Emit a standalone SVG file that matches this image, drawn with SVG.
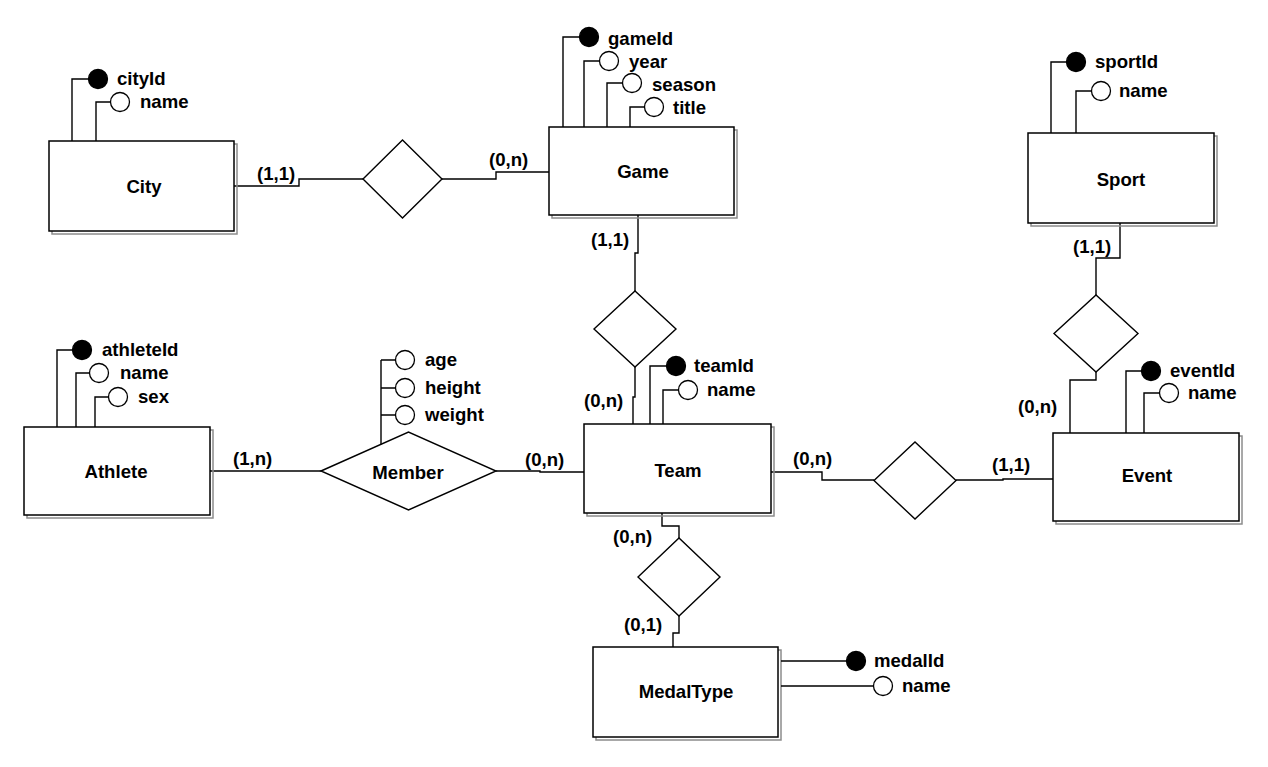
<svg xmlns="http://www.w3.org/2000/svg" width="1268" height="767" viewBox="0 0 1268 767">
<style>
  .bg{fill:#ffffff}
  .shadow{fill:none;stroke:#8c8c8c;stroke-width:1.5}
  .box{fill:#ffffff;stroke:#000000;stroke-width:1.5}
  .ln{fill:none;stroke:#000000;stroke-width:1.4}
  .dia{fill:#ffffff;stroke:#000000;stroke-width:1.4}
  .key{fill:#000000;stroke:#000000;stroke-width:1.3}
  .att{fill:#ffffff;stroke:#000000;stroke-width:1.3}
  text{font-family:"Liberation Sans",Arial,sans-serif;font-weight:bold;font-size:18.6px;fill:#000000}
  .c{text-anchor:middle}
</style>
<rect class="bg" x="0" y="0" width="1268" height="767"/>

<g id="connectors">
  <path class="ln" d="M234,186 H299 V179 H363"/>
  <path class="ln" d="M442,179 H496 V172 H549"/>
  <path class="ln" d="M638,215 V253 H635 V291"/>
  <path class="ln" d="M635,367 V397 H633 V424"/>
  <path class="ln" d="M1120,223 V258 H1096 V295"/>
  <path class="ln" d="M1096,372 V380 H1070 V433"/>
  <path class="ln" d="M210,471 H321"/>
  <path class="ln" d="M496,471 H540 V472 H584"/>
  <path class="ln" d="M771,472 H822 V480 H874"/>
  <path class="ln" d="M956,480 H1003 V479 H1053"/>
  <path class="ln" d="M662,513 V526 H679 V538"/>
  <path class="ln" d="M679,616 V633 H673 V647"/>
  <text x="257" y="180">(1,1)</text>
  <text x="489" y="166">(0,n)</text>
  <text x="591" y="246">(1,1)</text>
  <text x="584" y="407">(0,n)</text>
  <text x="1073" y="253">(1,1)</text>
  <text x="1018" y="413">(0,n)</text>
  <text x="233" y="465">(1,n)</text>
  <text x="525" y="466">(0,n)</text>
  <text x="793" y="465">(0,n)</text>
  <text x="992" y="471">(1,1)</text>
  <text x="613" y="543">(0,n)</text>
  <text x="624" y="631">(0,1)</text>
</g>

<g id="rel-city-game">
  <polygon class="dia" points="363,179 402.5,140 442,179 402.5,218"/>
</g>
<g id="rel-game-team">
  <polygon class="dia" points="594,329 635,291 676,329 635,367"/>
</g>
<g id="rel-sport-event">
  <polygon class="dia" points="1054,333.5 1096,295 1138,333.5 1096,372"/>
</g>
<g id="rel-team-event">
  <polygon class="dia" points="874,480.5 915,442 956,480.5 915,519"/>
</g>
<g id="rel-team-medal">
  <polygon class="dia" points="638,577 679,538 720,577 679,616"/>
</g>
<g id="rel-member">
  <polygon class="dia" points="321,471 408.5,432 496,471 408.5,510"/>
  <path class="ln" d="M381,444.5 V360 M381,360 H395.5 M381,388 H395.5 M381,415 H395.5"/>
  <circle class="att" cx="405" cy="360" r="9.5"/>
  <circle class="att" cx="405" cy="388" r="9.5"/>
  <circle class="att" cx="405" cy="415" r="9.5"/>
  <text x="425" y="366">age</text>
  <text x="425" y="394">height</text>
  <text x="425" y="421">weight</text>
  <text class="c" x="408" y="479">Member</text>
</g>

<g id="city">
  <rect class="shadow" x="52" y="144" width="185" height="90"/>
  <rect class="box" x="49" y="141" width="185" height="90"/>
  <text class="c" x="144" y="193">City</text>
  <path class="ln" d="M72,141 V79 H88.5 M96,141 V102 H110.5"/>
  <circle class="key" cx="98" cy="79" r="9.5"/>
  <circle class="att" cx="120" cy="102" r="9.5"/>
  <text x="117" y="85">cityId</text>
  <text x="140" y="108">name</text>
</g>

<g id="game">
  <rect class="shadow" x="552" y="130" width="185" height="88"/>
  <rect class="box" x="549" y="127" width="185" height="88"/>
  <text class="c" x="643" y="178">Game</text>
  <path class="ln" d="M563,127 V37 H579.5 M584,127 V61 H599.5 M607,127 V83 H622.5 M630,127 V107 H644.5"/>
  <circle class="key" cx="589" cy="37" r="9.5"/>
  <circle class="att" cx="609" cy="61" r="9.5"/>
  <circle class="att" cx="632" cy="83" r="9.5"/>
  <circle class="att" cx="654" cy="107" r="9.5"/>
  <text x="608" y="45">gameId</text>
  <text x="629" y="68">year</text>
  <text x="652" y="91">season</text>
  <text x="673" y="114">title</text>
</g>

<g id="sport">
  <rect class="shadow" x="1031" y="136" width="186" height="90"/>
  <rect class="box" x="1028" y="133" width="186" height="90"/>
  <text class="c" x="1121" y="186">Sport</text>
  <path class="ln" d="M1051,133 V62 H1066.5 M1076,133 V91 H1091.5"/>
  <circle class="key" cx="1076" cy="62" r="9.5"/>
  <circle class="att" cx="1101" cy="91" r="9.5"/>
  <text x="1095" y="68">sportId</text>
  <text x="1119" y="97">name</text>
</g>

<g id="athlete">
  <rect class="shadow" x="27" y="430" width="186" height="88"/>
  <rect class="box" x="24" y="427" width="186" height="88"/>
  <text class="c" x="116" y="478">Athlete</text>
  <path class="ln" d="M57,427 V350 H72.5 M76,427 V373 H89.5 M95,427 V397 H108.5"/>
  <circle class="key" cx="82" cy="350" r="9.5"/>
  <circle class="att" cx="99" cy="373" r="9.5"/>
  <circle class="att" cx="118" cy="397" r="9.5"/>
  <text x="102" y="356">athleteId</text>
  <text x="120" y="379">name</text>
  <text x="138" y="403">sex</text>
</g>

<g id="team">
  <rect class="shadow" x="587" y="427" width="187" height="89"/>
  <rect class="box" x="584" y="424" width="187" height="89"/>
  <text class="c" x="678" y="477">Team</text>
  <path class="ln" d="M650,424 V366 H666.5 M663,424 V390 H678.5"/>
  <circle class="key" cx="676" cy="366" r="9.5"/>
  <circle class="att" cx="688" cy="390" r="9.5"/>
  <text x="694" y="372">teamId</text>
  <text x="707" y="396">name</text>
</g>

<g id="event">
  <rect class="shadow" x="1056" y="436" width="186" height="88"/>
  <rect class="box" x="1053" y="433" width="186" height="88"/>
  <text class="c" x="1147" y="482">Event</text>
  <path class="ln" d="M1126,433 V371 H1141.5 M1144,433 V393 H1159.5"/>
  <circle class="key" cx="1151" cy="371" r="9.5"/>
  <circle class="att" cx="1169" cy="393" r="9.5"/>
  <text x="1170" y="377">eventId</text>
  <text x="1188" y="399">name</text>
</g>

<g id="medaltype">
  <rect class="shadow" x="596" y="650" width="185" height="90"/>
  <rect class="box" x="593" y="647" width="185" height="90"/>
  <text class="c" x="686" y="698">MedalType</text>
  <path class="ln" d="M781,661 H846.5 M781,686 H873.5"/>
  <circle class="key" cx="856" cy="661" r="9.5"/>
  <circle class="att" cx="883" cy="686" r="9.5"/>
  <text x="874" y="667">medalId</text>
  <text x="902" y="692">name</text>
</g>
</svg>
